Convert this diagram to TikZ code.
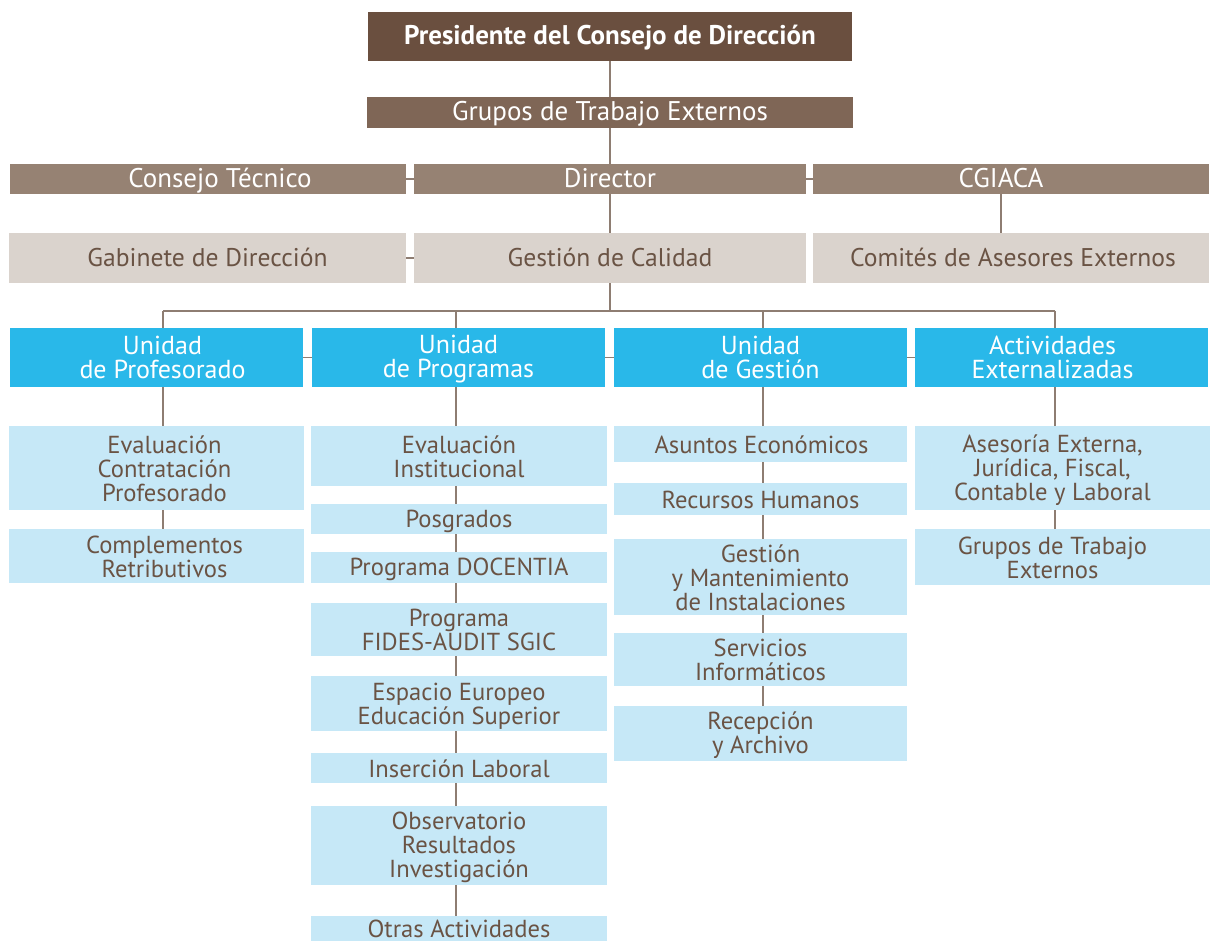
\documentclass[tikz,border=0pt]{standalone}
\usepackage{fontspec}
\setmainfont{PT Sans}
\usetikzlibrary{backgrounds}
\definecolor{cpres}{HTML}{6A4F3F}
\definecolor{cgrup}{HTML}{7F6656}
\definecolor{crow}{HTML}{968273}
\definecolor{cgray}{HTML}{DAD3CD}
\definecolor{cblue}{HTML}{29B8E9}
\definecolor{clight}{HTML}{C6E8F7}
\definecolor{ctext}{HTML}{6A5344}
\definecolor{cline}{HTML}{8E7D72}
\AtBeginDocument{\lineskiplimit=-20pt\relax}
% name, x1, y1, x2, y2, kind, text x-offset (px), text
\newcommand\orgbox[8]{\node[#6fill, minimum width={(#4-#2)*0.5pt}, minimum height={(#5-#3)*0.5pt},
  label={[#6text, xshift={(#7)*0.5pt}]center:{\rule{0pt}{11pt}#8\rule[-2pt]{0pt}{2pt}}}] (#1) at ({(#2+#4)/2},{(#3+#5)/2}) {};}
\begin{document}
\begin{tikzpicture}[x=0.5pt,y=-0.5pt,
  bx/.style={inner sep=0pt, outer sep=0pt},
  tx/.style={inner sep=0pt, outer sep=0pt, align=center,
    font=\fontsize{13.5}{12}\selectfont},
  pfill/.style={bx, fill=cpres}, ptext/.style={tx, text=white, font=\fontsize{13.5}{12}\selectfont\bfseries},
  gfill/.style={bx, fill=cgrup}, gtext/.style={tx, text=white},
  rfill/.style={bx, fill=crow},  rtext/.style={tx, text=white},
  sfill/.style={bx, fill=cgray}, stext/.style={tx, text=ctext, font=\fontsize{12.8}{12}\selectfont},
  ufill/.style={bx, fill=cblue}, utext/.style={tx, text=white, font=\fontsize{13}{12}\selectfont},
  lfill/.style={bx, fill=clight}, ltext/.style={tx, text=ctext, font=\fontsize{12.3}{12}\selectfont},
  conn/.style={draw=cline, line width=0.7pt}]
\useasboundingbox (0,0) rectangle (1216,941);
\coordinate (d1) at (163,311);
\coordinate (d2) at (456,311);
\coordinate (d3) at (763,311);
\coordinate (d4) at (1055,311);
\coordinate (dm) at (610,311);
\coordinate (dc) at (1001,200);
\orgbox{pres}{368}{12}{852}{61}{p}{0}{Presidente del Consejo de Dirección}
\orgbox{grupos}{367}{97}{853}{128}{g}{0}{Grupos de Trabajo Externos}
\orgbox{ct}{10}{164}{406}{194}{r}{12}{Consejo Técnico}
\orgbox{dir}{414}{164}{806}{194}{r}{0}{Director}
\orgbox{cg}{813}{164}{1209}{194}{r}{-10}{CGIACA}
\orgbox{gab}{9}{233}{406}{283}{s}{0}{Gabinete de Dirección}
\orgbox{gc}{414}{233}{806}{283}{s}{0}{Gestión de Calidad}
\orgbox{com}{813}{233}{1209}{283}{s}{2}{Comités de Asesores Externos}
\orgbox{up}{10}{328}{303}{387}{u}{6}{Unidad\\de Profesorado}
\orgbox{upr}{312}{328}{605}{387}{u}{0}{Unidad\\de Programas}
\orgbox{ug}{614}{328}{907}{387}{u}{0}{Unidad\\de Gestión}
\orgbox{ae}{915}{328}{1208}{387}{u}{-9}{Actividades\\Externalizadas}
% column 1
\orgbox{ecp}{9}{426}{304}{510}{l}{8}{Evaluación\\Contratación\\Profesorado}
\orgbox{cr}{9}{529}{304}{583}{l}{8}{Complementos\\Retributivos}
% column 2
\orgbox{ei}{311}{426}{607}{486}{l}{0}{Evaluación\\Institucional}
\orgbox{pos}{311}{504}{607}{534}{l}{0}{Posgrados}
\orgbox{doc}{311}{552}{607}{583}{l}{0}{Programa DOCENTIA}
\orgbox{fid}{311}{603}{607}{656}{l}{0}{Programa\\FIDES-AUDIT SGIC}
\orgbox{eee}{311}{676}{607}{731}{l}{0}{Espacio Europeo\\Educación Superior}
\orgbox{il}{311}{753}{607}{783}{l}{0}{Inserción Laboral}
\orgbox{obs}{311}{806}{607}{885}{l}{0}{Observatorio\\Resultados\\Investigación}
\orgbox{otr}{311}{916}{607}{940}{l}{0}{Otras Actividades}
% column 3
\orgbox{aec}{614}{426}{907}{462}{l}{1}{Asuntos Económicos}
\orgbox{rh}{614}{483}{907}{515}{l}{0}{Recursos Humanos}
\orgbox{gmi}{614}{539}{907}{615}{l}{0}{Gestión\\y Mantenimiento\\de Instalaciones}
\orgbox{si}{614}{633}{907}{686}{l}{0}{Servicios\\Informáticos}
\orgbox{ra}{614}{706}{907}{761}{l}{0}{Recepción\\y Archivo}
% column 4
\orgbox{ase}{915}{426}{1210}{510}{l}{-10}{Asesoría Externa,\\Jurídica, Fiscal,\\Contable y Laboral}
\orgbox{gte}{915}{529}{1210}{585}{l}{-10}{Grupos de Trabajo\\Externos}
% connectors, drawn behind the boxes
\begin{pgfonlayer}{background}
\fill[white] (0,0) rectangle (1216,941);
\fill[clight] (otr.south west) rectangle (607,941);
\draw[conn] (pres.south -| dm) -- (grupos.north -| dm);
\draw[conn] (grupos.south -| dm) -- (dir.north -| dm);
\draw[conn] (dir.south -| dm) -- (gc.north -| dm);
\draw[conn] (gc.south -| dm) -- (dm);
\draw[conn] (ct.east) -- (dir.west);
\draw[conn] (dir.east) -- (cg.west);
\draw[conn] (gab.east) -- (gc.west);
\draw[conn] (cg.south -| dc) -- (com.north -| dc);
\draw[conn] (d1) -- (d4);
\draw[conn] (d1) -- (up.north -| d1);
\draw[conn] (d2) -- (upr.north -| d2);
\draw[conn] (d3) -- (ug.north -| d3);
\draw[conn] (d4) -- (ae.north -| d4);
\draw[conn] (up.east) -- (upr.west);
\draw[conn] (upr.east) -- (ug.west);
\draw[conn] (ug.east) -- (ae.west);
\draw[conn] (up.south -| d1) -- (ecp.north -| d1);
\draw[conn] (ecp.south -| d1) -- (cr.north -| d1);
\draw[conn] (upr.south -| d2) -- (ei.north -| d2);
\draw[conn] (ei.south -| d2) -- (pos.north -| d2);
\draw[conn] (pos.south -| d2) -- (doc.north -| d2);
\draw[conn] (doc.south -| d2) -- (fid.north -| d2);
\draw[conn] (fid.south -| d2) -- (eee.north -| d2);
\draw[conn] (eee.south -| d2) -- (il.north -| d2);
\draw[conn] (il.south -| d2) -- (obs.north -| d2);
\draw[conn] (obs.south -| d2) -- (otr.north -| d2);
\draw[conn] (ug.south -| d3) -- (aec.north -| d3);
\draw[conn] (aec.south -| d3) -- (rh.north -| d3);
\draw[conn] (rh.south -| d3) -- (gmi.north -| d3);
\draw[conn] (gmi.south -| d3) -- (si.north -| d3);
\draw[conn] (si.south -| d3) -- (ra.north -| d3);
\draw[conn] (ae.south -| d4) -- (ase.north -| d4);
\draw[conn] (ase.south -| d4) -- (gte.north -| d4);
\end{pgfonlayer}
\end{tikzpicture}
\end{document}
